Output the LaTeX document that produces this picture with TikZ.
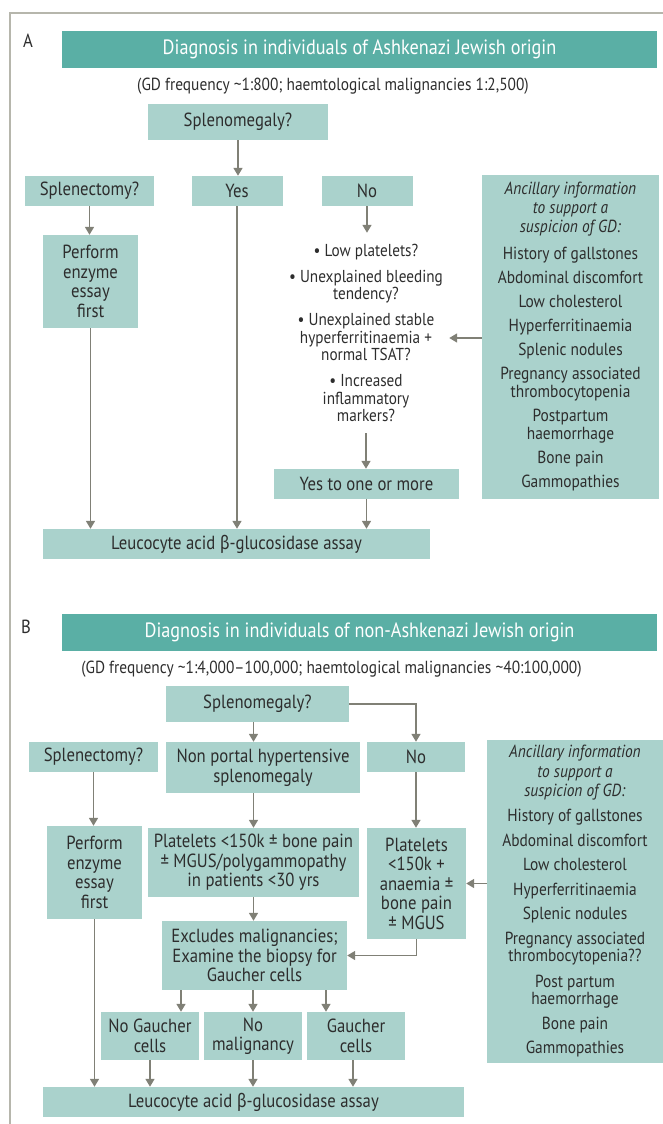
\documentclass[tikz,border=0pt]{standalone}
\usepackage{fontspec}
\setmainfont{PT Sans}[FakeStretch=0.88]
\newfontfamily\greekfont{Fira Sans}[FakeStretch=0.85]
\usetikzlibrary{arrows.meta}

\definecolor{barteal}{RGB}{90,175,165}
\definecolor{boxteal}{RGB}{170,210,204}
\definecolor{arrgray}{RGB}{128,128,118}
\definecolor{txtgray}{RGB}{45,45,45}
\definecolor{framegray}{RGB}{182,182,172}

\begin{document}
\begin{tikzpicture}[x=1pt,y=-1pt,
  >={Triangle[length=8pt,width=9pt]},
  box/.style={fill=boxteal,text=txtgray,inner sep=0pt,align=center,font=\fontsize{19}{19.5}\selectfont},
  bar/.style={fill=barteal,text=white,inner sep=0pt,minimum width=595pt,minimum height=37pt,font=\fontsize{20.7}{22}\selectfont},
  plain/.style={text=txtgray,inner sep=0pt,align=center,font=\fontsize{17.3}{17.5}\selectfont},
  arr/.style={->,draw=arrgray,line width=1.6pt}]
  \useasboundingbox (0,0) rectangle (663,1124);
  \draw[framegray,line width=1.5pt] (10,1124) |- (663,13);

  % panel A
  \node[text=txtgray,font=\fontsize{19}{22}\selectfont] (labA) at (28,41) {A};
  \node[bar] (titA) at (359.5,49.5) {Diagnosis in individuals of Ashkenazi Jewish origin};
  \node[plain,font=\fontsize{17.5}{18}\selectfont] (subA) at (333,86) {(GD frequency \textasciitilde1:800; haemtological malignancies 1:2,500)};
  \node[box,minimum width=180pt,minimum height=36pt] (splA) at (238,122) {Splenomegaly?};
  \node[box,minimum width=129pt,minimum height=30pt] (sectA) at (89.5,191) {Splenectomy?};
  \node[box,minimum width=91pt,minimum height=30pt] (yesA) at (237,191) {Yes};
  \node[box,minimum width=91pt,minimum height=30pt] (noA) at (367,191) {No};
  \node[box,minimum width=95pt,minimum height=93pt] (perfA) at (90.5,281.5) {Perform\\enzyme\\essay\\first};
  \node[plain,minimum width=166pt,minimum height=200pt] (bulA) at (366,333) {%
    • Low platelets?\\[8.5pt]
    • Unexplained bleeding\\tendency?\\[8.5pt]
    • Unexplained stable\\hyperferritinaemia +\\normal TSAT?\\[8.5pt]
    • Increased\\inflammatory\\markers?};
  \node[box,minimum width=177pt,minimum height=324pt,font=\fontsize{17.5}{17.5}\selectfont] (ancA) at (570.5,337) {%
    \textit{Ancillary information}\\[1.5pt]\textit{to support a}\\[1.5pt]\textit{suspicion of GD:}\\[9.5pt]
    History of gallstones\\[6.5pt]
    Abdominal discomfort\\[6.5pt]
    Low cholesterol\\[6.5pt]
    Hyperferritinaemia\\[6.5pt]
    Splenic nodules\\[6.5pt]
    Pregnancy associated\\thrombocytopenia\\[7pt]
    Postpartum\\haemorrhage\\[7pt]
    Bone pain\\[6.5pt]
    Gammopathies};
  \node[box,minimum width=185pt,minimum height=30pt] (yes1A) at (366.5,484) {Yes to one or more};
  \node[box,minimum width=387pt,minimum height=30pt] (leuA) at (236.5,544) {Leucocyte acid {\greekfont β}-glucosidase assay};

  \draw[arr] (splA.south) -- (splA.south |- yesA.north);
  \draw[arr] (sectA.south) -- (sectA.south |- perfA.north);
  \draw[arr] (noA.south) -- (noA.south |- bulA.north);
  \draw[arr] (bulA.south) -- (bulA.south |- yes1A.north);
  \draw[arr] ([yshift=-5pt]ancA.west |- bulA) -- ([yshift=-5pt]bulA.east);
  \draw[arr] (perfA.south) -- (perfA.south |- leuA.north);
  \draw[arr] (yesA.south) -- (yesA.south |- leuA.north);
  \draw[arr] (yes1A.south) -- (yes1A.south |- leuA.north);

  % panel B
  \node[text=txtgray,font=\fontsize{19}{22}\selectfont] (labB) at (26,627) {B};
  \node[bar] (titB) at (359.5,632.5) {Diagnosis in individuals of non-Ashkenazi Jewish origin};
  \node[plain,font=\fontsize{17.5}{18}\selectfont] (subB) at (331.5,669) {(GD frequency \textasciitilde1:4,000–100,000; haemtological malignancies \textasciitilde40:100,000)};
  \node[box,minimum width=183pt,minimum height=36pt] (splB) at (257.5,704) {Splenomegaly?};
  \node[box,minimum width=129pt,minimum height=30pt] (sectB) at (93.5,757) {Splenectomy?};
  \node[box,minimum width=194pt,minimum height=51pt] (npB) at (263,767.5) {Non portal hypertensive\\splenomegaly};
  \node[box,minimum width=98pt,minimum height=30pt] (noB) at (416,757) {No};
  \node[box,minimum width=176pt,minimum height=323pt,font=\fontsize{17.5}{17.5}\selectfont] (ancB) at (575,901.5) {%
    \textit{Ancillary information}\\[2pt]\textit{to support a}\\[2pt]\textit{suspicion of GD:}\\[7.5pt]
    History of gallstones\\[7pt]
    Abdominal discomfort\\[7pt]
    Low cholesterol\\[7pt]
    Hyperferritinaemia\\[7pt]
    Splenic nodules\\[7pt]
    Pregnancy associated\\thrombocytopenia??\\[8pt]
    Post partum\\haemorrhage\\[7pt]
    Bone pain\\[7pt]
    Gammopathies};
  \node[box,minimum width=95pt,minimum height=93pt] (perfB) at (94.5,872.5) {Perform\\enzyme\\essay\\first};
  \node[box,minimum width=211pt,minimum height=69pt] (platB) at (253.5,862.5) {Platelets <150k ± bone pain\\± MGUS/polygammopathy\\in patients <30 yrs};
  \node[box,minimum width=99pt,minimum height=111pt] (platR) at (416.5,883.5) {Platelets\\<150k +\\anaemia ±\\bone pain\\± MGUS};
  \node[box,minimum width=185pt,minimum height=69pt] (exclB) at (254.5,955.5) {Excludes malignancies;\\Examine the biopsy for\\Gaucher cells};
  \node[box,minimum width=98pt,minimum height=48pt] (ngB) at (150,1036) {No Gaucher\\cells};
  \node[box,minimum width=98pt,minimum height=48pt] (nmB) at (253,1036) {No\\malignancy};
  \node[box,minimum width=98pt,minimum height=48pt] (gcB) at (356,1036) {Gaucher\\cells};
  \node[box,minimum width=421pt,minimum height=30pt] (leuB) at (253.5,1102) {Leucocyte acid {\greekfont β}-glucosidase assay};

  \draw[arr] (splB.south -| platB) -- (npB.north -| platB);
  \draw[arr] (splB.east) -| (noB.north);
  \draw[arr] (sectB.south) -- (sectB.south |- perfB.north);
  \draw[arr] (npB.south -| platB) -- (platB.north);
  \draw[arr] (noB.south) -- (noB.south |- platR.north);
  \draw[arr] (platB.south) -- (platB.south |- exclB.north);
  \draw[arr] (platR.south) |- (exclB.east);
  \draw[arr] (ancB.west |- platR) -- (platR.east);
  \draw[arr] ([xshift=-73.5pt]exclB.south) -- ([xshift=-73.5pt]exclB.south |- ngB.north);
  \draw[arr] (exclB.south -| nmB) -- (nmB.north);
  \draw[arr] ([xshift=71.5pt]exclB.south) -- ([xshift=71.5pt]exclB.south |- gcB.north);
  \draw[arr] (perfB.south) -- (perfB.south |- leuB.north);
  \draw[arr] (ngB.south) -- (ngB.south |- leuB.north);
  \draw[arr] (nmB.south) -- (nmB.south |- leuB.north);
  \draw[arr] ([xshift=-3pt]gcB.south) -- ([xshift=-3pt]gcB.south |- leuB.north);
\end{tikzpicture}
\end{document}
